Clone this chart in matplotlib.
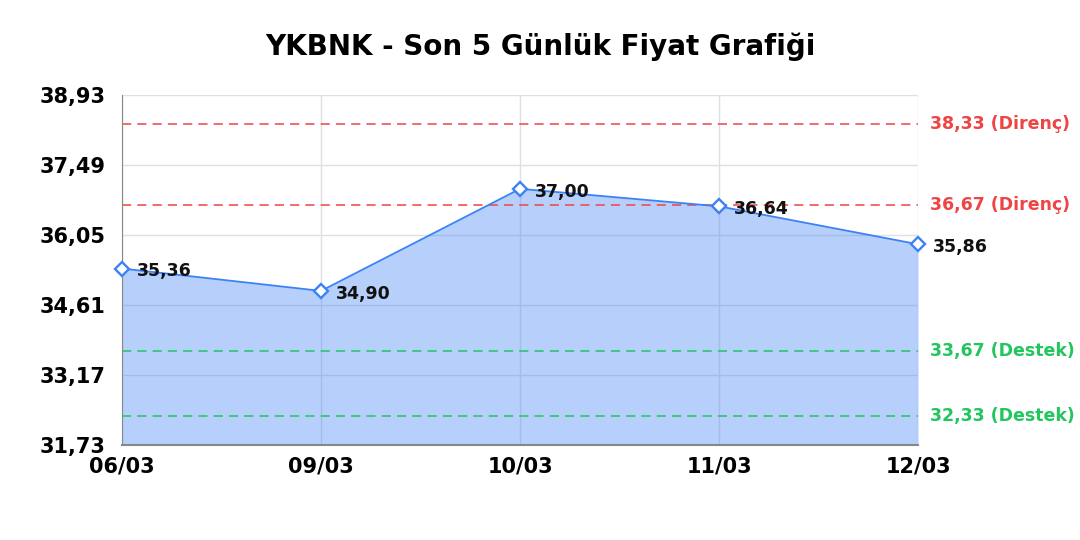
import matplotlib
matplotlib.use("Agg")
import matplotlib.pyplot as plt

# Price data
dates = ["06/03", "09/03", "10/03", "11/03", "12/03"]
prices = [35.36, 34.90, 37.00, 36.64, 35.86]

# Support / resistance levels
resistance = [38.33, 36.67]
support = [33.67, 32.33]

y_ticks = [31.73, 33.17, 34.61, 36.05, 37.49, 38.93]

line_col = "#3b82f6"
red = "#ef4444"
green = "#22c55e"


def fmt(v):
    return "{:.2f}".format(v).replace(".", ",")


fig = plt.figure(figsize=(10.8, 5.4), dpi=100)
ax = fig.add_axes([0.113, 0.176, 0.737, 0.648])

x = list(range(len(dates)))
ax.fill_between(x, prices, y_ticks[0], color=line_col, alpha=0.37, lw=0, zorder=1)
ax.plot(x, prices, color=line_col, lw=1.3, zorder=3)
ax.plot(x, prices, ls="none", marker="D", ms=7, mfc="white", mec=line_col, mew=1.7,
        zorder=4, clip_on=False)

for xi, p in zip(x, prices):
    ax.annotate(fmt(p), (xi, p), xytext=(11, -2), textcoords="offset points",
                ha="left", va="center", fontsize=12.5, fontweight="bold", color="#111111", zorder=5)

for lvl in resistance:
    ax.axhline(lvl, color=red, ls=(0, (6, 4)), lw=1.1, zorder=2)
    ax.text(1.015, lvl, "{} (Direnç)".format(fmt(lvl)), transform=ax.get_yaxis_transform(),
            color=red, fontsize=12.5, fontweight="bold", va="center", ha="left")
for lvl in support:
    ax.axhline(lvl, color=green, ls=(0, (6, 4)), lw=1.1, zorder=2)
    ax.text(1.015, lvl, "{} (Destek)".format(fmt(lvl)), transform=ax.get_yaxis_transform(),
            color=green, fontsize=12.5, fontweight="bold", va="center", ha="left")

ax.set_xlim(0, len(dates) - 1)
ax.set_ylim(y_ticks[0], y_ticks[-1])
ax.set_xticks(x)
ax.set_xticklabels(dates)
ax.set_yticks(y_ticks)
ax.set_yticklabels([fmt(t) for t in y_ticks])
for lab in ax.get_xticklabels() + ax.get_yticklabels():
    lab.set_fontweight("bold")
    lab.set_fontsize(15)
ax.tick_params(axis="y", length=0, pad=12)
ax.tick_params(axis="x", length=0, pad=8)

ax.grid(True, color="#e0e0e0", lw=1, zorder=0)
ax.set_axisbelow(True)
for s in ["top", "right"]:
    ax.spines[s].set_visible(False)
ax.spines["left"].set_color("#888888")
ax.spines["bottom"].set_color("#888888")
ax.spines["bottom"].set_linewidth(1.5)

fig.suptitle("YKBNK - Son 5 Günlük Fiyat Grafiği", fontsize=20, fontweight="bold", y=0.94)

plt.savefig("out.png", dpi=100)
